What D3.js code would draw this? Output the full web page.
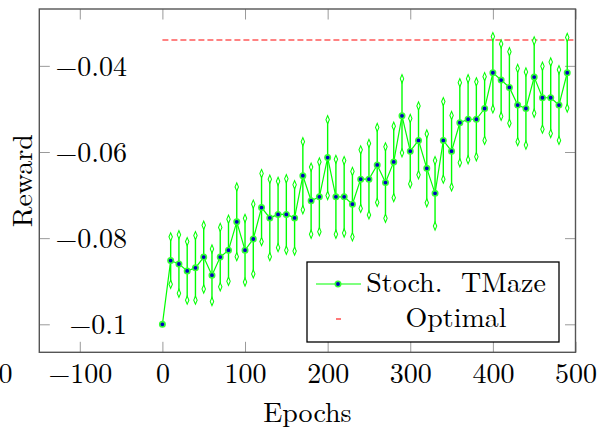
<!DOCTYPE html>
<html>
<head>
<meta charset="utf-8">
<script src="https://cdn.jsdelivr.net/npm/d3@7"></script>
<style>
  body { margin: 0; background: #fff; }
  svg text { font-family: "Latin Modern Roman", "CMU Serif", "Liberation Serif", serif; fill: #000; }
</style>
</head>
<body>
<svg id="chart"></svg>
<script>
// epochs and mean reward with half-width of the error bar
const epochs = [0, 10, 20, 30, 40, 50, 60, 70, 80, 90,
  100, 110, 120, 130, 140, 150, 160, 170, 180, 190,
  200, 210, 220, 230, 240, 250, 260, 270, 280, 290,
  300, 310, 320, 330, 340, 350, 360, 370, 380, 390,
  400, 410, 420, 430, 440, 450, 460, 470, 480, 490];
const reward = [-0.1, -0.0852, -0.0860, -0.0876, -0.0869, -0.0844, -0.0886, -0.0844, -0.0828, -0.0762,
  -0.0828, -0.0802, -0.0729, -0.0753, -0.0745, -0.0745, -0.0753, -0.0655, -0.0713, -0.0704,
  -0.0613, -0.0704, -0.0704, -0.0721, -0.0663, -0.0663, -0.0630, -0.0671, -0.0623, -0.0516,
  -0.0598, -0.0573, -0.0638, -0.0696, -0.0573, -0.0598, -0.0532, -0.0524, -0.0524, -0.0499,
  -0.0416, -0.0433, -0.0450, -0.0491, -0.0499, -0.0426, -0.0474, -0.0474, -0.0491, -0.0416];
const rewardErr = [0, 0.0055, 0.0068, 0.0068, 0.0075, 0.0074, 0.0061, 0.0069, 0.0072, 0.0081,
  0.0074, 0.0081, 0.0079, 0.0090, 0.0077, 0.0083, 0.0077, 0.0079, 0.0078, 0.0081,
  0.0088, 0.0087, 0.0084, 0.0076, 0.0068, 0.0083, 0.0087, 0.0083, 0.0083, 0.0086,
  0.0076, 0.0080, 0.0080, 0.0076, 0.0090, 0.0083, 0.0093, 0.0094, 0.0087, 0.0074,
  0.0084, 0.0084, 0.0083, 0.0085, 0.0085, 0.0084, 0.0073, 0.0083, 0.0082, 0.0082];
const optimalX = [0, 500];
const optimalY = [-0.034, -0.034];
const xTicks = [-200, -100, 0, 100, 200, 300, 400, 500];
const yTicks = [-0.1, -0.08, -0.06, -0.04];
const legendLabels = ["Stoch.  TMaze", "Optimal"];

const width = 599, height = 427;
const margin = {top: 9, right: 23.5, bottom: 74.7, left: 39.3};
const innerW = width - margin.left - margin.right;
const innerH = height - margin.top - margin.bottom;
const fontSize = 28;
const green = "#00ff00";

const data = epochs.map((e, i) => ({x: e, y: reward[i], err: rewardErr[i]}));

const svg = d3.select("#chart")
    .attr("width", width)
    .attr("height", height);

const g = svg.append("g")
    .attr("transform", `translate(${margin.left},${margin.top})`);

const x = d3.scaleLinear().domain([-149, 500]).range([0, innerW]);
const y = d3.scaleLinear().domain([-0.1065, -0.0268]).range([innerH, 0]);

const fmt = d3.format(".2~f");

// axes: ticks point inward on all four sides
const tickLen = -10.5;
const xAxisB = g.append("g")
    .attr("transform", `translate(0,${innerH})`)
    .call(d3.axisBottom(x).tickValues(xTicks).tickSizeInner(tickLen).tickSizeOuter(0).tickPadding(11).tickFormat(d => fmt(d)));
const xAxisT = g.append("g")
    .call(d3.axisTop(x).tickValues(xTicks).tickSizeInner(tickLen).tickSizeOuter(0).tickFormat(""));
const yAxisL = g.append("g")
    .call(d3.axisLeft(y).tickValues(yTicks).tickSizeInner(tickLen).tickSizeOuter(0).tickPadding(-87.7).tickFormat(d => fmt(d)));
const yAxisR = g.append("g")
    .attr("transform", `translate(${innerW},0)`)
    .call(d3.axisRight(y).tickValues(yTicks).tickSizeInner(tickLen).tickSizeOuter(0).tickFormat(""));

[xAxisB, xAxisT, yAxisL, yAxisR].forEach(a => {
  a.select(".domain").remove();
  a.selectAll(".tick line").attr("stroke", "#9a9a9a").attr("stroke-width", 1);
  a.attr("font-size", null).attr("font-family", null);
  a.selectAll("text").style("font-size", fontSize + "px").attr("fill", "#000");
});
// ticks outside the frame only keep their label
[xAxisB, xAxisT].forEach(a => {
  a.selectAll(".tick").filter(d => d < x.domain()[0]).select("line").remove();
});
xAxisB.selectAll(".tick").filter(d => d === -200).select("text").attr("dx", -17);
yAxisL.selectAll("text").attr("dy", "0.33em");

// optimal line
g.append("path")
    .datum(optimalX.map((v, i) => [v, optimalY[i]]))
    .attr("fill", "none")
    .attr("stroke", "#ff5a5a")
    .attr("stroke-width", 1.3)
    .attr("stroke-dasharray", "6,3")
    .attr("d", d3.line().x(d => x(d[0])).y(d => y(d[1])));

// error bars
const bars = data.filter(d => d.err > 0);
g.append("g").selectAll("line")
    .data(bars)
    .join("line")
    .attr("x1", d => x(d.x)).attr("x2", d => x(d.x))
    .attr("y1", d => y(d.y - d.err)).attr("y2", d => y(d.y + d.err))
    .attr("stroke", green)
    .attr("stroke-width", 1.4);

const diamond = d3.symbol().type(d3.symbolDiamond).size(16);
const ends = bars.flatMap(d => [{x: d.x, y: d.y - d.err}, {x: d.x, y: d.y + d.err}]);
g.append("g").selectAll("path")
    .data(ends)
    .join("path")
    .attr("d", diamond)
    .attr("transform", d => `translate(${x(d.x)},${y(d.y)}) scale(0.8,1.1)`)
    .attr("fill", "#fff")
    .attr("stroke", green)
    .attr("stroke-width", 1.2);

// mean line
g.append("path")
    .datum(data)
    .attr("fill", "none")
    .attr("stroke", green)
    .attr("stroke-width", 1.2)
    .attr("d", d3.line().x(d => x(d.x)).y(d => y(d.y)));

g.append("g").selectAll("circle")
    .data(data)
    .join("circle")
    .attr("cx", d => x(d.x))
    .attr("cy", d => y(d.y))
    .attr("r", 2.7)
    .attr("fill", "#0000c0")
    .attr("stroke", "#33ff33")
    .attr("stroke-width", 1.6);

// frame
g.append("rect")
    .attr("width", innerW)
    .attr("height", innerH)
    .attr("fill", "none")
    .attr("stroke", "#555")
    .attr("stroke-width", 1.4);

// axis titles
svg.append("text")
    .attr("x", margin.left + innerW / 2)
    .attr("y", 422)
    .attr("text-anchor", "middle")
    .style("font-size", fontSize + "px")
    .text("Epochs");

svg.append("text")
    .attr("transform", `translate(32,${margin.top + innerH / 2}) rotate(-90)`)
    .attr("text-anchor", "middle")
    .style("font-size", fontSize + "px")
    .text("Reward");

// legend
const legend = svg.append("g");
legend.append("rect")
    .attr("x", 307).attr("y", 262)
    .attr("width", 252).attr("height", 80)
    .attr("fill", "#fff")
    .attr("stroke", "#000")
    .attr("stroke-width", 1.3);

legend.append("line")
    .attr("x1", 316).attr("x2", 361)
    .attr("y1", 284).attr("y2", 284)
    .attr("stroke", green).attr("stroke-width", 1.2);
legend.append("circle")
    .attr("cx", 338).attr("cy", 284).attr("r", 2.7)
    .attr("fill", "#0000c0").attr("stroke", "#33ff33").attr("stroke-width", 1.6);
legend.append("line")
    .attr("x1", 336).attr("x2", 341)
    .attr("y1", 319).attr("y2", 319)
    .attr("stroke", "#ff3030").attr("stroke-width", 1.3);

legend.selectAll("text.lbl")
    .data(legendLabels)
    .join("text")
    .attr("class", "lbl")
    .attr("x", 456)
    .attr("y", (d, i) => 292 + i * 35)
    .attr("text-anchor", "middle")
    .style("white-space", "pre")
    .style("font-size", fontSize + "px")
    .text(d => d);
</script>
</body>
</html>
